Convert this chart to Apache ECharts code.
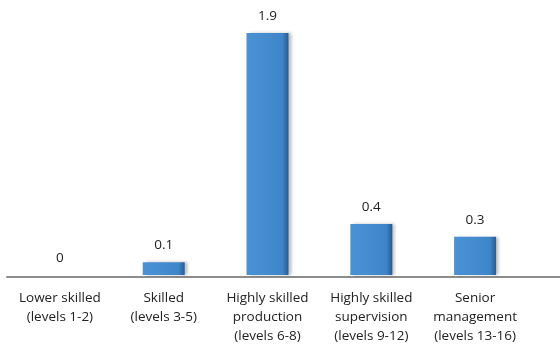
<!DOCTYPE html>
<html>
<head>
<meta charset="utf-8">
<script src="https://cdn.jsdelivr.net/npm/echarts@6/dist/echarts.min.js"></script>
<style>
  html, body { margin: 0; padding: 0; background: #fff; }
  #main { width: 560px; height: 346px; }
</style>
</head>
<body>
<div id="main"></div>
<script>
// categories and values
var categories = [
	'Lower skilled\n(levels 1-2)',
	'Skilled\n(levels 3-5)',
	'Highly skilled\nproduction\n(levels 6-8)',
	'Highly skilled\nsupervision\n(levels 9-12)',
	'Senior\nmanagement\n(levels 13-16)'
];
var values = [0, 0.1, 1.9, 0.4, 0.3];

var myChart = echarts.init(document.getElementById('main'));

var barColor = new echarts.graphic.LinearGradient(0, 0, 1, 0, [
	{ offset: 0, color: '#4a92d6' },
	{ offset: 0.85, color: '#3f86c9' },
	{ offset: 1, color: '#2a5a92' }
]);

var option = {
	animation: false,
	grid: [
		{ left: 8, right: 33, top: 33, bottom: 69 },
		// only used to draw the longer baseline
		{ left: 7, right: 0, top: 33, bottom: 69 }
	],
	xAxis: [{
		type: 'category',
		gridIndex: 0,
		data: categories,
		axisLine: { show: false },
		axisTick: { show: false },
		axisLabel: {
			color: '#222',
			fontSize: 13.5,
			fontFamily: 'Open Sans',
			lineHeight: 19,
			margin: 14,
			interval: 0
		}
	}, {
		type: 'category',
		gridIndex: 1,
		data: [],
		axisLine: { show: true, lineStyle: { color: '#8c8c8c', width: 2 } },
		axisTick: { show: false },
		axisLabel: { show: false }
	}],
	yAxis: [{
		type: 'value',
		gridIndex: 0,
		min: 0,
		max: 1.9,
		show: false
	}, {
		type: 'value',
		gridIndex: 1,
		show: false
	}],
	series: [{
		type: 'bar',
		xAxisIndex: 0,
		yAxisIndex: 0,
		data: values,
		barWidth: 42,
		itemStyle: {
			color: barColor,
			shadowColor: 'rgba(0,0,0,0.25)',
			shadowBlur: 3,
			shadowOffsetX: 3
		},
		label: {
			show: true,
			position: 'top',
			distance: 10,
			color: '#222',
			fontSize: 13.5,
			fontFamily: 'Open Sans'
		}
	}]
};
myChart.setOption(option);
</script>
</body>
</html>
